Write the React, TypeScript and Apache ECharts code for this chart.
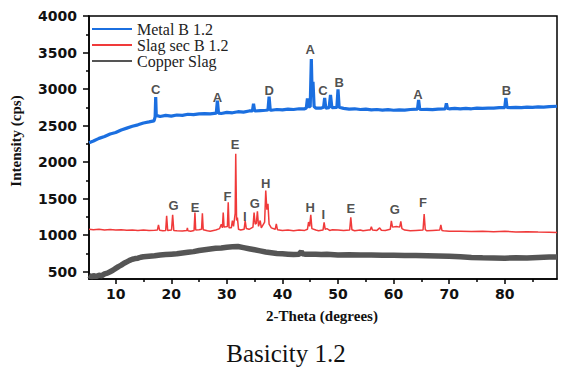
import React, { useEffect, useRef } from "react";
import * as echarts from "echarts";

const seriesNames = ["Metal B 1.2", "Slag sec B 1.2", "Copper Slag"];
const seriesColors = ["#1b6fe0", "#f03a3a", "#555555"];

const metal: [number, number][] = [
  [5.2, 2265], [6, 2290], [7, 2325], [8, 2350], [9, 2385], [10, 2405], [11, 2440], [12, 2465], [13, 2490], [14, 2510],
  [15, 2535], [16, 2550], [16.9, 2565], [17.1, 2620], [17.2, 2890], [17.3, 2640], [18, 2625], [19, 2640], [20, 2630],
  [21, 2645], [22, 2640], [23, 2655], [24, 2650], [25, 2660], [26, 2665], [27, 2660], [28.1, 2670], [28.3, 2840],
  [28.5, 2670], [29, 2665], [30, 2680], [31, 2675], [32, 2690], [33, 2685], [34, 2700], [34.6, 2700], [34.8, 2800],
  [35, 2700], [36, 2705], [37, 2710], [37.4, 2715], [37.6, 2895], [37.8, 2715], [38, 2710], [39, 2720], [40, 2715],
  [41, 2725], [42, 2720], [43, 2730], [44, 2730], [44.3, 2740], [44.5, 2870], [44.7, 2760], [45.0, 2760], [45.2, 3410],
  [45.35, 2900], [45.5, 3100], [45.7, 2760], [46, 2740], [47, 2740], [47.4, 2750], [47.6, 2880], [47.8, 2740],
  [48.4, 2745], [48.65, 2920], [48.9, 2745], [49.8, 2750], [50.0, 2995], [50.2, 2750], [51, 2735], [52, 2725],
  [53, 2730], [54, 2720], [55, 2725], [56, 2715], [57, 2720], [58, 2712], [59, 2718], [60, 2710], [61, 2715],
  [62, 2712], [63, 2720], [64.3, 2725], [64.5, 2850], [64.7, 2725], [65, 2720], [66, 2722], [67, 2718], [68, 2725],
  [69.3, 2730], [69.5, 2805], [69.7, 2735], [70, 2730], [71, 2735], [72, 2728], [73, 2735], [74, 2730], [75, 2738],
  [76, 2735], [77, 2740], [78, 2738], [79, 2745], [80, 2745], [80.2, 2880], [80.4, 2750], [81, 2745], [82, 2750],
  [83, 2745], [84, 2752], [85, 2750], [86, 2755], [87, 2752], [88, 2760], [89.4, 2765],
];

const slag: [number, number][] = [
  [5.2, 1080], [6, 1075], [7, 1082], [8, 1072], [9, 1078], [10, 1070], [11, 1075], [12, 1068], [13, 1072], [14, 1065],
  [15, 1070], [16, 1065], [17, 1068], [17.5, 1070], [17.7, 1140], [17.9, 1068], [18.5, 1062], [19, 1065], [19.17, 1265],
  [19.35, 1065], [20.05, 1070], [20.25, 1280], [20.45, 1065], [21, 1060], [22, 1058], [22.8, 1065], [22.9, 1100],
  [23.0, 1060], [23.5, 1055], [24.1, 1065], [24.26, 1310], [24.4, 1070], [25, 1075], [25.45, 1080], [25.6, 1300],
  [25.75, 1075], [26.5, 1060], [27, 1055], [28, 1070], [28.7, 1090], [29.0, 1150], [29.2, 1100], [29.35, 1310],
  [29.5, 1110], [30.1, 1120], [30.25, 1450], [30.4, 1100], [30.8, 1100], [31.0, 1200], [31.2, 1120], [31.5, 1300],
  [31.6, 2115], [31.75, 1200], [31.9, 1240], [32.1, 1080], [32.5, 1070], [33.1, 1080], [33.3, 1195], [33.5, 1090],
  [34, 1080], [34.7, 1110], [34.9, 1310], [35.1, 1150], [35.3, 1160], [35.5, 1325], [35.7, 1120], [36.0, 1200],
  [36.2, 1100], [36.8, 1180], [37.0, 1610], [37.2, 1350], [37.4, 1430], [37.6, 1150], [38.0, 1100], [38.7, 1080],
  [38.9, 1155], [39.1, 1075], [40, 1065], [41, 1070], [42, 1060], [43, 1070], [44, 1065], [44.5, 1080], [44.7, 1180],
  [44.9, 1120], [45.1, 1280], [45.3, 1090], [46, 1070], [46.5, 1060], [47.3, 1070], [47.5, 1175], [47.7, 1080],
  [48, 1090], [48.5, 1065], [49, 1075], [50, 1070], [51, 1065], [52.1, 1070], [52.3, 1245], [52.5, 1075], [53, 1060],
  [54, 1070], [54.5, 1060], [55.5, 1070], [55.8, 1070], [56.0, 1115], [56.2, 1070], [57, 1065], [57.5, 1100],
  [57.8, 1068], [58.5, 1065], [59.4, 1080], [59.6, 1195], [59.8, 1110], [60.5, 1120], [61.1, 1110], [61.3, 1190],
  [61.5, 1090], [62, 1070], [63, 1060], [64, 1065], [65.3, 1070], [65.5, 1290], [65.7, 1075], [66, 1060], [67, 1065],
  [68.3, 1070], [68.5, 1140], [68.7, 1065], [69, 1060], [70, 1055], [72, 1055], [74, 1050], [76, 1055], [78, 1048],
  [80, 1052], [82, 1045], [84, 1048], [86, 1042], [88, 1040], [89.4, 1038],
];

const copper: [number, number][] = [
  [5.2, 450], [5.6, 430], [6, 445], [6.5, 435], [7, 450], [7.5, 445], [8, 470], [8.5, 480], [9, 500], [9.5, 520],
  [10, 545], [10.5, 570], [11, 590], [11.5, 615], [12, 635], [12.5, 655], [13, 670], [13.5, 680], [14, 685],
  [14.5, 698], [15, 705], [16, 712], [17, 718], [18, 728], [19, 735], [20, 740], [21, 745], [22, 755], [23, 765],
  [24, 775], [25, 790], [26, 800], [27, 810], [28, 820], [29, 825], [30, 835], [31, 840], [32, 845], [33, 830],
  [34, 815], [35, 800], [36, 785], [37, 770], [38, 760], [39, 750], [40, 745], [41, 740], [42, 735], [43, 740],
  [43.4, 775], [43.6, 745], [44, 740], [45, 740], [46, 738], [47, 735], [48, 740], [50, 730], [52, 732], [54, 728], [56, 730],
  [58, 726], [60, 725], [62, 722], [64, 720], [66, 718], [68, 715], [70, 712], [72, 705], [74, 695], [76, 690],
  [78, 688], [80, 685], [82, 690], [84, 688], [86, 695], [88, 700], [89.4, 702],
];

const peakLabels: [number, number, string][] = [
  [17.2, 2990, "C"], [28.3, 2890, "A"], [37.6, 2985, "D"], [45.0, 3535, "A"], [47.3, 2985, "C"], [50.2, 3095, "B"],
  [64.4, 2925, "A"], [80.3, 2975, "B"],
  [20.4, 1410, "G"], [24.3, 1385, "E"], [30.1, 1527, "F"], [31.5, 2237, "E"], [33.25, 1252, "I"], [35.05, 1435, "G"],
  [37.0, 1710, "H"], [45.0, 1372, "H"], [47.35, 1280, "I"], [52.3, 1367, "E"], [60.2, 1358, "G"], [65.3, 1449, "F"],
];

const yTicks = [500, 1000, 1500, 2000, 2500, 3000, 3500, 4000];
const yMinorTicks = [750, 1250, 1750, 2250, 2750, 3250, 3750];
const xTicks = [10, 20, 30, 40, 50, 60, 70, 80];
const xMinorTicks = [15, 25, 35, 45, 55, 65, 75, 85];

const xTitle = "2-Theta (degrees)";
const yTitle = "Intensity (cps)";
const caption = "Basicity 1.2";

export default function App() {
  const ref = useRef<HTMLDivElement>(null);
  useEffect(() => {
    if (!ref.current) return;
    const chart = echarts.init(ref.current, null, { renderer: "svg" });
    const X_MIN = 5.2, X_MAX = 89.4, Y_MIN = 400, Y_MAX = 4000;
    const tickFont = { fontFamily: "DejaVu Sans", fontWeight: "bold" as const, fontSize: 14, color: "#111" };
    const lineData = [metal, slag, copper];
    const widths = [3.2, 1.5, 5.5];
    chart.setOption({
      animation: false,
      grid: { left: 89, right: 4, top: 16, bottom: 90, show: true, borderColor: "#000", borderWidth: 1.5, backgroundColor: "transparent" },
      legend: {
        data: seriesNames,
        orient: "vertical",
        left: 92,
        top: 21,
        icon: "rect",
        itemWidth: 40,
        itemHeight: 2,
        itemGap: 0,
        padding: 0,
        textStyle: { fontFamily: "Liberation Serif", fontSize: 16, color: "#222", lineHeight: 16 },
      },
      xAxis: [
        {
          type: "value", min: X_MIN, max: X_MAX, position: "bottom",
          axisLine: { show: true, lineStyle: { color: "#000", width: 1.5 } },
          axisTick: { show: true, customValues: xTicks, length: 5, lineStyle: { color: "#000", width: 1.5 } },
          axisLabel: { customValues: xTicks, margin: 8, formatter: (v: number) => String(v), ...tickFont },
          splitLine: { show: false },
        },
        {
          type: "value", min: X_MIN, max: X_MAX, position: "bottom",
          axisLine: { show: false },
          axisTick: { show: true, customValues: xMinorTicks, length: 3, lineStyle: { color: "#000", width: 1.5 } },
          axisLabel: { show: false },
          splitLine: { show: false },
        },
      ],
      yAxis: [
        {
          type: "value", min: Y_MIN, max: Y_MAX, position: "left",
          axisLine: { show: true, lineStyle: { color: "#000", width: 1.5 } },
          axisTick: { show: true, customValues: yTicks, length: 6, lineStyle: { color: "#000", width: 1.5 } },
          axisLabel: { customValues: yTicks, margin: 12, formatter: (v: number) => String(v), ...tickFont },
          splitLine: { show: false },
        },
        {
          type: "value", min: Y_MIN, max: Y_MAX, position: "left",
          axisLine: { show: false },
          axisTick: { show: true, customValues: yMinorTicks, length: 3, lineStyle: { color: "#000", width: 1.5 } },
          axisLabel: { show: false },
          splitLine: { show: false },
        },
      ],
      series: [
        ...seriesNames.map((name, i) => ({
          name,
          type: "line",
          data: lineData[i],
          showSymbol: false,
          symbol: "none",
          color: seriesColors[i],
          lineStyle: { color: seriesColors[i], width: widths[i] },
          z: 3 - i,
        })),
        {
          name: "peaks",
          type: "scatter",
          symbolSize: 1,
          itemStyle: { color: "transparent" },
          data: peakLabels.map(([x, y, t]) => ({ value: [x, y], name: t })),
          label: {
            show: true,
            position: "inside",
            formatter: "{b}",
            fontFamily: "Liberation Sans",
            fontWeight: "bold",
            fontSize: 13,
            color: "#222",
          },
          z: 10,
        },
      ],
      graphic: [
        {
          type: "text", x: 16, y: 141, rotation: Math.PI / 2,
          style: { text: yTitle, fontFamily: "Liberation Serif", fontWeight: "bold", fontSize: 15, fill: "#111", textAlign: "center", textVerticalAlign: "middle" },
        },
        {
          type: "text", x: 322, y: 316,
          style: { text: xTitle, fontFamily: "Liberation Serif", fontWeight: "bold", fontSize: 15, fill: "#111", textAlign: "center", textVerticalAlign: "middle" },
        },
        {
          type: "text", x: 286, y: 353,
          style: { text: caption, fontFamily: "Liberation Serif", fontSize: 25, fill: "#111", textAlign: "center", textVerticalAlign: "middle" },
        },
      ],
    });
    return () => chart.dispose();
  }, []);
  return <div ref={ref} style={{ width: 561, height: 369, position: "absolute", left: 0, top: 0 }} />;
}
